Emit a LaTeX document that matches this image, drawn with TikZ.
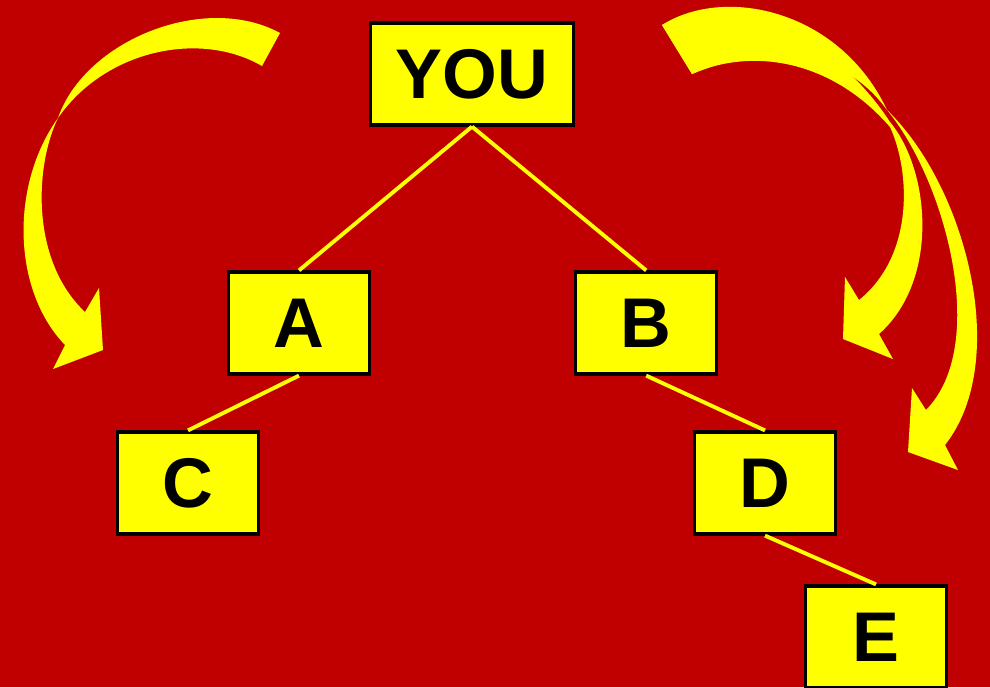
\documentclass[tikz,border=0pt]{standalone}
\usepackage{fontspec}
\setmainfont{Liberation Sans}
\definecolor{slidered}{RGB}{192,0,0}
\definecolor{boxyellow}{RGB}{255,255,0}

\begin{document}
\begin{tikzpicture}[x=0.01cm,y=-0.01cm,node distance=3.47cm,
  person node/.style={rectangle,draw=black,line width=0.9pt,fill=boxyellow,
    minimum width=1.41cm,minimum height=1.02cm,inner sep=0pt,
    font=\fontsize{20}{24}\selectfont\bfseries},
  you node/.style={person node,minimum width=2.03cm},
  tree line/.style={draw=boxyellow,line width=1.1pt},
  curl arrow/.style={fill=boxyellow}]

\fill[slidered] (0,0) rectangle (990,687);
\useasboundingbox (0,0) rectangle (990,687);

  \node[you node] (00) at (472,74) {YOU};
  \node[person node] (11) at (299,323) {A};
  \node[person node] (12) [right of=11] {B};
  \node[person node] (21) at (188,483) {C};
  \node[person node] (22) at (765,483) {D};
  \node[person node] (31) at (876,637) {E};

\begin{scope}
  \draw[tree line] (00.south) to (11.north);
  \draw[tree line] (00.south) to (12.north);
  \draw[tree line] (11.south) to (21.north);
  \draw[tree line] (12.south) to (22.north);
  \draw[tree line] (22.south) to (31.north);
\end{scope}

% left curl
  \fill[curl arrow] (280,33) .. controls (205,-8) and (85,40) .. (58,118)
    .. controls (10,185) and (12,290) .. (65,345) -- (53,369) -- (103,350) -- (99,288) -- (85,312)
    .. controls (30,260) and (35,165) .. (58,118) .. controls (105,50) and (200,30) .. (262,66) -- cycle;
% right curls
  \fill[curl arrow] (662,25) .. controls (725,-15) and (840,10) .. (887,110)
    .. controls (965,185) and (1012,360) .. (945,445) -- (958,470) -- (908,452) -- (912,388) -- (926,410)
    .. controls (990,345) and (945,180) .. (887,110) .. controls (840,45) and (760,45) .. (692,74) -- cycle;
  \fill[curl arrow] (662,25) .. controls (730,-5) and (830,30) .. (890,122)
    .. controls (930,170) and (940,280) .. (879,334) -- (893,359) -- (843,339) -- (845,277) -- (859,300)
    .. controls (915,255) and (910,170) .. (890,127) .. controls (830,58) and (750,48) .. (692,74) -- cycle;
\end{tikzpicture}
\end{document}
